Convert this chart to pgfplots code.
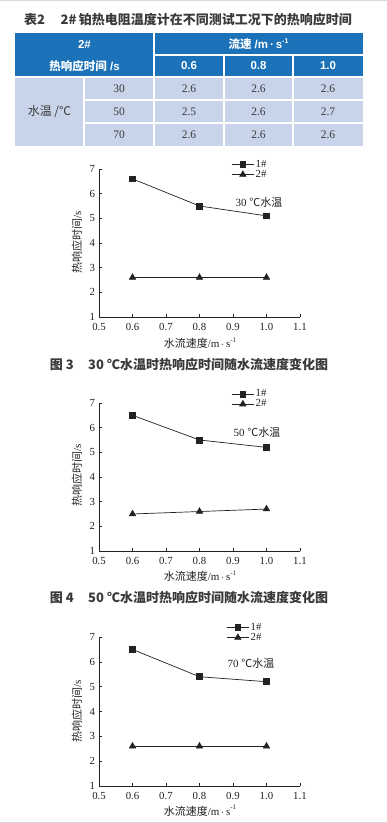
\documentclass[border=0pt]{standalone}
\usepackage{fontspec}
\usepackage{pgfplots}
\pgfplotsset{compat=1.18}
\setmainfont{Liberation Serif}
\newfontfamily\cjk{Noto Sans CJK SC}
\newfontfamily\sans{Liberation Sans}
\definecolor{hdr}{HTML}{1B72B8}
\definecolor{bdy}{HTML}{C7D4E9}
\definecolor{txt}{HTML}{3A3A3A}
\definecolor{ink}{HTML}{222222}
\newcommand{\fs}[1]{\fontsize{#1bp}{#1bp}\selectfont}
\newcommand{\unit}{/m\,$\cdot$\,s\raisebox{.5em}{\fs{7}-1}}
\pgfplotsset{
  chart/.style={
    scale only axis, width=201bp, clip=false,
    xmin=0.5, xmax=1.1, ymin=1, ymax=7,
    xtick={0.5,0.6,...,1.1}, ytick={1,2,...,7},
    axis x line*=bottom, axis y line*=left,
    axis line style={-, ink, line width=0.7bp},
    tick align=inside, major tick length=3bp,
    tick style={ink, line width=0.6bp},
    ticklabel style={font=\fs{10.8}, text=ink},
    xticklabel style={yshift=-2.5bp, /pgf/number format/.cd, fixed, precision=1, fixed zerofill, assume math mode=true},
    yticklabel style={xshift=-0.5bp, /pgf/number format/.cd, assume math mode=true},
    legend style={draw=none, fill=none, font=\fs{10.8}, text=ink, inner sep=0pt, row sep=-1.5bp,
      nodes={inner sep=1.5bp}},
    legend cell align=left,
    legend image code/.code={\draw[mark repeat=2, mark phase=2, #1] plot coordinates {(0bp,0bp) (11bp,0bp) (22bp,0bp)};},
  },
  s1/.style={ink, line width=0.7bp, mark=square*, mark size=2.9bp, mark options={solid, fill=ink}},
  s2/.style={ink, line width=0.7bp, mark=triangle*, mark size=3.6bp, mark options={solid, fill=ink}},
}
\begin{document}
\begin{tikzpicture}
\useasboundingbox (0,0) rectangle (387bp,823bp);
\fill[white] (0,0) rectangle (387bp,823bp);
\draw[gray!30, line width=1bp] (0,822.5bp) -- (387bp,822.5bp);
\draw[gray!30, line width=1bp] (0,0.5bp) -- (387bp,0.5bp);
% title
\node[text=txt, font=\cjk\bfseries\fs{13}] at (188bp,803bp) {表2\hspace{1.2em}2\#\,铂热电阻温度计在不同测试工况下的热响应时间};
% table
\fill[hdr] (15bp,790bp) rectangle (363bp,746bp);
\fill[bdy] (15bp,746bp) rectangle (363bp,677bp);
\begin{scope}[white, line width=1.5bp]
\draw (154bp,790bp) -- (154bp,677bp);
\draw (224bp,768bp) -- (224bp,677bp);
\draw (293bp,768bp) -- (293bp,677bp);
\draw (84bp,746bp) -- (84bp,677bp);
\draw (154bp,768bp) -- (363bp,768bp);
\draw (15bp,746bp) -- (363bp,746bp);
\draw (84bp,723bp) -- (363bp,723bp);
\draw (84bp,700bp) -- (363bp,700bp);
\end{scope}
\begin{scope}[every node/.style={text=white, font=\sans\bfseries\fs{11.5}}]
\node at (84.5bp,779bp) {2\#};
\node at (84.5bp,757bp) {{\cjk\bfseries 热响应时间} /s};
\node at (258.5bp,779bp) {{\cjk\bfseries 流速} /m\,·\,s\raisebox{.45em}{\fs{7}-1}};
\node at (189bp,757bp) {0.6};
\node at (258.5bp,757bp) {0.8};
\node at (328bp,757bp) {1.0};
\end{scope}
\begin{scope}[every node/.style={text=txt, font=\fs{11.5}}]
\node[font=\cjk\fs{12}] at (49.5bp,711.5bp) {水温 /℃};
\node at (119bp,734.5bp) {30};
\node at (119bp,711.5bp) {50};
\node at (119bp,688.5bp) {70};
\node at (189bp,734.5bp) {2.6};
\node at (258.5bp,734.5bp) {2.6};
\node at (328bp,734.5bp) {2.6};
\node at (189bp,711.5bp) {2.5};
\node at (258.5bp,711.5bp) {2.6};
\node at (328bp,711.5bp) {2.7};
\node at (189bp,688.5bp) {2.6};
\node at (258.5bp,688.5bp) {2.6};
\node at (328bp,688.5bp) {2.6};
\end{scope}
% chart 1
\begin{axis}[chart, height=148bp, at={(99bp,506bp)}, anchor=origin,
  legend style={at={(axis cs:0.895,6.98)}, anchor=west}]
\addplot[s1] coordinates {(0.6,6.6) (0.8,5.5) (1.0,5.1)};
\addlegendentry{1\#}
\addplot[s2] coordinates {(0.6,2.6) (0.8,2.6) (1.0,2.6)};
\addlegendentry{2\#}
\end{axis}
\node[text=ink, font=\fs{11}] at (259bp,621bp) {30 {\cjk ℃水温}};
\node[text=ink, font=\fs{11}, rotate=90] at (77bp,581bp) {{\cjk 热响应时间}/s};
\node[text=ink, font=\fs{11}] at (200bp,480bp) {{\cjk 水流速度}\unit};
\node[text=txt, font=\cjk\bfseries\fs{13}] at (189bp,458bp) {图 3\hspace{1.1em}30 ℃水温时热响应时间随水流速度变化图};
% chart 2
\begin{axis}[chart, height=148bp, at={(99bp,272bp)}, anchor=origin,
  legend style={at={(axis cs:0.895,7.16)}, anchor=west}]
\addplot[s1] coordinates {(0.6,6.5) (0.8,5.5) (1.0,5.2)};
\addlegendentry{1\#}
\addplot[s2] coordinates {(0.6,2.5) (0.8,2.6) (1.0,2.7)};
\addlegendentry{2\#}
\end{axis}
\node[text=ink, font=\fs{11}] at (257bp,391bp) {50 {\cjk ℃水温}};
\node[text=ink, font=\fs{11}, rotate=90] at (77bp,348bp) {{\cjk 热响应时间}/s};
\node[text=ink, font=\fs{11}] at (200bp,247bp) {{\cjk 水流速度}\unit};
\node[text=txt, font=\cjk\bfseries\fs{13}] at (189bp,225bp) {图 4\hspace{1.1em}50 ℃水温时热响应时间随水流速度变化图};
% chart 3
\begin{axis}[chart, height=149bp, at={(99bp,37bp)}, anchor=origin,
  legend style={at={(axis cs:0.88,7.18)}, anchor=west}]
\addplot[s1] coordinates {(0.6,6.5) (0.8,5.4) (1.0,5.2)};
\addlegendentry{1\#}
\addplot[s2] coordinates {(0.6,2.6) (0.8,2.6) (1.0,2.6)};
\addlegendentry{2\#}
\end{axis}
\node[text=ink, font=\fs{11}] at (251bp,160bp) {70 {\cjk ℃水温}};
\node[text=ink, font=\fs{11}, rotate=90] at (77bp,112bp) {{\cjk 热响应时间}/s};
\node[text=ink, font=\fs{11}] at (200bp,12.5bp) {{\cjk 水流速度}\unit};
\end{tikzpicture}
\end{document}
